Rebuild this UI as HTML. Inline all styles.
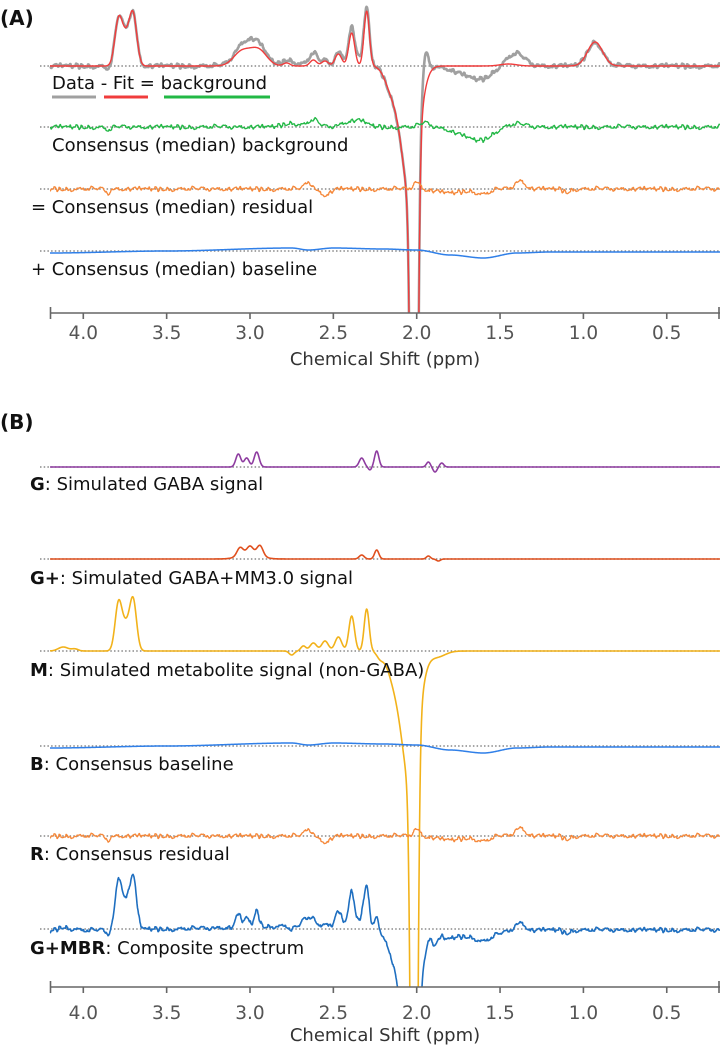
<!DOCTYPE html>
<html><head><meta charset="utf-8"><style>
html,body{margin:0;padding:0;background:#fff;overflow:hidden;width:720px;height:1050px;}
svg{display:block;font-family:"DejaVu Sans","Liberation Sans",sans-serif;}
.lbl{font-size:18px;fill:#111;}
.tick{font-size:18.5px;fill:#555;text-anchor:middle;}
.xl{font-size:18px;fill:#333;text-anchor:middle;}
</style></head><body>
<svg id="fig" width="720" height="1050" viewBox="0 0 720 1050">
<defs>
<clipPath id="clipA"><rect x="0" y="0" width="720" height="313"/></clipPath>
<clipPath id="clipB"><rect x="0" y="432" width="720" height="555"/></clipPath>
</defs>
<text x="0" y="25" font-size="20" font-weight="bold" fill="#111">(A)</text>
<text x="0" y="429" font-size="20" font-weight="bold" fill="#111">(B)</text>
<g id="baselines"></g>
<g id="seriesA" clip-path="url(#clipA)"></g>
<g id="seriesB" clip-path="url(#clipB)"></g>
<g id="axes"></g>
<g>
<text class="lbl" x="52" y="89"><tspan>Data</tspan> <tspan>- Fit</tspan> = <tspan>background</tspan></text>
<line x1="52" y1="97" x2="96" y2="97" stroke="#a0a0a0" stroke-width="3"/>
<line x1="104" y1="97" x2="148" y2="97" stroke="#f03c3c" stroke-width="3"/>
<line x1="164" y1="97" x2="270" y2="97" stroke="#22b845" stroke-width="3"/>
</g>
<text class="lbl" x="52" y="151">Consensus (median) background</text>
<text class="lbl" x="31" y="213">= Consensus (median) residual</text>
<text class="lbl" x="31" y="275">+ Consensus (median) baseline</text>
<text class="lbl" x="30" y="490"><tspan font-weight="bold">G</tspan>: Simulated GABA signal</text>
<text class="lbl" x="30" y="584"><tspan font-weight="bold">G+</tspan>: Simulated GABA+MM3.0 signal</text>
<text class="lbl" x="30" y="676"><tspan font-weight="bold">M</tspan>: Simulated metabolite signal (non-GABA)</text>
<text class="lbl" x="30" y="770"><tspan font-weight="bold">B</tspan>: Consensus baseline</text>
<text class="lbl" x="30" y="860"><tspan font-weight="bold">R</tspan>: Consensus residual</text>
<text class="lbl" x="30" y="954"><tspan font-weight="bold">G+MBR</tspan>: Composite spectrum</text>
<text class="xl" x="385" y="365">Chemical Shift (ppm)</text>
<text class="xl" x="385" y="1041">Chemical Shift (ppm)</text>
</svg>
<script>
// ---- data ----
const tickValues=[4.0,3.5,3.0,2.5,2.0,1.5,1.0,0.5];
const tickLabels=["4.0","3.5","3.0","2.5","2.0","1.5","1.0","0.5"];
const fitCenters=[3.79,3.745,3.70,3.05,2.95,2.78,2.62,2.55,2.47,2.39,2.30,2.15,2.04,2.015,0.93,1.45];
const fitHeights=[40,28,45,14,16,3,6,5,12,33,55,-22,-130,-800,24,2];
const fitWidths=[0.022,0.03,0.022,0.05,0.05,0.02,0.02,0.02,0.02,0.018,0.016,0.04,0.05,0.016,0.045,0.05];
const bgCenters=[2.75,2.62,2.4,2.33,1.95,1.7,1.6,1.4,3.85];
const bgHeights=[4,7,5,4,4,-8,-9,3,-3];
const bgWidths=[0.05,0.03,0.05,0.04,0.03,0.08,0.06,0.05,0.02];
const dataExtraCenters=[1.95,3.0,1.4];
const dataExtraHeights=[30,9,8];
const dataExtraWidths=[0.018,0.06,0.05];
const resCenters=[2.65,2.55,2.0,1.8,1.6,1.38,3.85,1.1];
const resHeights=[7,-6,7,-4,-5,8,-4,-3];
const resWidths=[0.02,0.03,0.02,0.08,0.04,0.03,0.015,0.02];
const baseKnotPpm=[4.2,3.5,2.75,2.65,2.5,2.2,2.0,1.8,1.6,1.4,1.2,0.2];
const baseKnotVal=[-2,0,3,1,3,2,1,-4,-7,-2,-1,-1];
const gCenters=[3.07,3.02,2.96,2.33,2.28,2.24,1.93,1.89,1.85];
const gHeights=[13,9,15,9,-3,16,5,-5,4];
const gWidths=[0.015,0.015,0.015,0.015,0.01,0.013,0.012,0.012,0.012];
const gpCenters=[3.06,3.0,2.94,3.0,2.33,2.24,1.93,1.87];
const gpHeights=[8,7,10,6,4,9,3,-2];
const gpWidths=[0.018,0.018,0.018,0.06,0.015,0.013,0.012,0.012];
const mCenters=[4.12,4.05,3.79,3.745,3.70,2.75,2.68,2.62,2.55,2.47,2.39,2.30,2.22,2.14,2.04,2.015,1.88];
const mHeights=[4,2,42,26,45,-4,5,8,10,14,35,42,-6,-22,-130,-800,-6];
const mWidths=[0.03,0.02,0.02,0.03,0.02,0.015,0.015,0.02,0.02,0.02,0.017,0.015,0.02,0.04,0.05,0.016,0.05];
const noiseVals=[0.3,-0.5,0.8,-0.2,-0.9,0.4,0.1,-0.6,0.7,-0.3,0.5,-0.8,0.2,0.9,-0.4,-0.1,0.6,-0.7,0.3,-0.2,0.8,-0.5,-0.9,0.4,0.0,0.7,-0.6,0.2,-0.3,0.9,-0.8,0.5,0.1,-0.4,0.6,-0.1,-0.7,0.3,0.8,-0.2,-0.5,0.4,-0.9,0.7,0.2,-0.6,0.1,0.5,-0.3,-0.8,0.9,-0.4,0.3,0.6,-0.7,-0.1,0.2,-0.5,0.8,0.4,-0.2,-0.9,0.5,0.1,-0.6,0.7,-0.3,0.3,-0.8,0.6,0.0,-0.4,0.9,-0.7,0.2,0.4,-0.5,-0.1,0.8,-0.3,0.5,-0.9,0.1,0.7,-0.6,0.3,-0.2,0.6,-0.8,0.4,0.2,-0.4,0.9,-0.5,-0.1,0.7,-0.7,0.3,0.5,-0.3,0.1];

// ---- axis functions ----
const X0=83.3, PX=166.7;
function xOf(p){return X0+(4-p)*PX;}
function ppmOf(x){return 4-(x-X0)/PX;}
function yOf(base,v){return base-v;}
function peaks(p,c,h,w){let s=0;for(let i=0;i<c.length;i++){const d=(p-c[i])/w[i];s+=h[i]*Math.exp(-0.5*d*d);}return s;}
function knots(p){for(let i=0;i<baseKnotPpm.length-1;i++){const a=baseKnotPpm[i],b=baseKnotPpm[i+1];if(p<=a&&p>=b){const t=(a-p)/(a-b);const s=t*t*(3-2*t);return baseKnotVal[i]+(baseKnotVal[i+1]-baseKnotVal[i])*s;}}return baseKnotVal[baseKnotVal.length-1];}
function noise(xi,off){const N=noiseVals.length;const a=noiseVals[(xi*37+off)%N],b=noiseVals[(xi*37+off+37)%N];return 0.6*a+0.4*b;}

const NS='http://www.w3.org/2000/svg';
function path(group,fn,base,color,width,name){
  let d='';
  for(let x=50;x<=720;x+=0.5){const v=fn(ppmOf(x),Math.floor(x-50));d+=(x===50?'M':'L')+x+' '+yOf(base,v).toFixed(2);}
  const el=document.createElementNS(NS,'path');
  el.setAttribute('d',d);el.setAttribute('fill','none');el.setAttribute('stroke',color);
  el.setAttribute('stroke-width',width);el.setAttribute('stroke-linejoin','round');
  
  
  document.getElementById(group).appendChild(el);
}
const fit=p=>peaks(p,fitCenters,fitHeights,fitWidths);
const bg=(p,i)=>peaks(p,bgCenters,bgHeights,bgWidths)+3*noise(i,5);
const dat=(p,i)=>fit(p)+bg(p,i)+peaks(p,dataExtraCenters,dataExtraHeights,dataExtraWidths);
const res=(p,i)=>peaks(p,resCenters,resHeights,resWidths)+3*noise(i,11);
const bl=p=>knots(p);
const G=p=>peaks(p,gCenters,gHeights,gWidths);
const GP=p=>peaks(p,gpCenters,gpHeights,gpWidths);
const M=p=>peaks(p,mCenters,mHeights,mWidths);
const comp=(p,i)=>G(p)+M(p)+bl(p)+res(p,i);

// dotted baselines
[66,127,189,251,467,559,651,746,836,929].forEach(function(y){
  const l=document.createElementNS(NS,'line');
  l.setAttribute('x1',40);l.setAttribute('x2',720);l.setAttribute('y1',y);l.setAttribute('y2',y);
  l.setAttribute('stroke','#888');l.setAttribute('stroke-width','1.6');l.setAttribute('stroke-dasharray','1.5 2.2');
  
  
  document.getElementById('baselines').appendChild(l);
});

path('seriesA',dat,66,'#a0a0a0',2.6,'data-series');
path('seriesA',fit,66,'#f03c3c',1.4,'fit-series');
path('seriesA',bg,127,'#22b845',1.3,'background-series');
path('seriesA',res,189,'#f5883a',1.3,'residual-series-a');
path('seriesA',bl,251,'#2f7fe8',1.5,'baseline-series-a');
path('seriesB',G,467,'#8e3ca0',1.6,'gaba-series');
path('seriesB',GP,559,'#e0501e',1.6,'gaba-mm-series');
path('seriesB',M,651,'#f2b21a',1.6,'metabolite-series');
path('seriesB',bl,746,'#2f7fe8',1.5,'baseline-series-b');
path('seriesB',res,836,'#f5883a',1.3,'residual-series-b');
path('seriesB',comp,929,'#1f6fc0',1.6,'composite-series');

// axes
function axis(y,ly,name){
  const g=document.createElementNS(NS,'g');
  
  
  let s='<line x1="50" y1="'+y+'" x2="720" y2="'+y+'" stroke="#666" stroke-width="1.6"/>';
  s+='<line x1="50.5" y1="'+(y-6)+'" x2="50.5" y2="'+(y+6)+'" stroke="#666" stroke-width="1.6"/>';
  s+='<line x1="719" y1="'+(y-6)+'" x2="719" y2="'+(y+6)+'" stroke="#666" stroke-width="1.6"/>';
  tickValues.forEach(function(t,i){const x=xOf(t);
    s+='<line x1="'+x+'" y1="'+y+'" x2="'+x+'" y2="'+(y+6)+'" stroke="#666" stroke-width="1.6"/>';
    s+='<text class="tick" x="'+x+'" y="'+ly+'">'+tickLabels[i]+'</text>';});
  g.innerHTML=s;
  document.getElementById('axes').appendChild(g);
}
axis(313,339,'x-axis-a');
axis(987,1019,'x-axis-b');
</script>
</body></html>
